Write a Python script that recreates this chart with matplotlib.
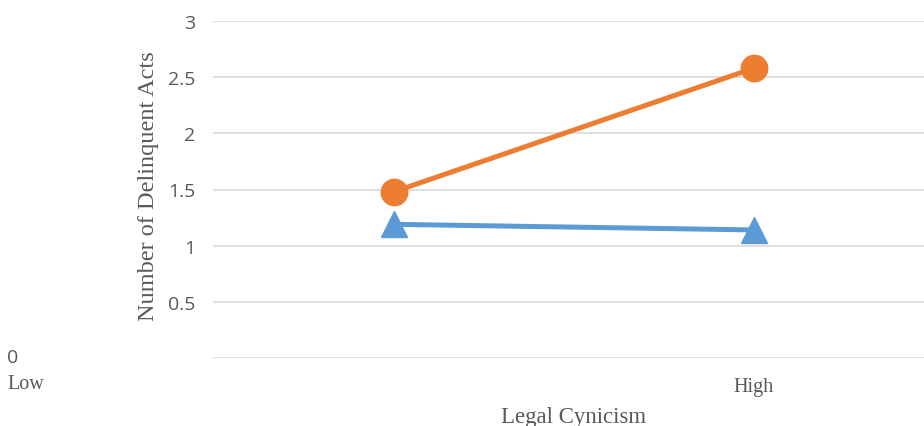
import matplotlib
matplotlib.use("Agg")
import matplotlib.pyplot as plt

categories = ["Low", "High"]
series_orange = [1.48, 2.58]
series_blue = [1.19, 1.14]
y_ticks = [0, 0.5, 1, 1.5, 2, 2.5, 3]
y_tick_labels = ["0", "0.5", "1", "1.5", "2", "2.5", "3"]

W, H = 924, 427
fig = plt.figure(figsize=(W / 100, H / 100), dpi=100)
ax = fig.add_axes([213 / W, (H - 359) / H, (924 - 213) / W, (359 - 22) / H])

x = list(range(len(categories)))
ax.plot(x, series_orange, color="#ED7D31", lw=3.6, marker="o", ms=19,
        solid_capstyle="butt", zorder=3)
ax.plot(x, series_blue, color="#5B9BD5", lw=3.6, marker="^", ms=19,
        solid_capstyle="butt", zorder=3)

ax.set_xlim(-(394 - 213) / 360, 1 + (924 - 754) / 360)
ax.set_ylim(0, 3)

for s in ax.spines.values():
    s.set_visible(False)
ax.set_yticks(y_ticks)
ax.set_yticklabels(y_tick_labels, family="Open Sans", fontsize=14, color="#595959")
ax.yaxis.grid(True, color="#D9D9D9", lw=1.2)
ax.set_axisbelow(True)
ax.tick_params(axis="y", length=0, pad=13)
ax.tick_params(axis="x", length=0, pad=14)
ax.yaxis.get_ticklabels()[0].set_visible(False)

ax.set_xticks(x)
ax.set_xticklabels(categories, family="Liberation Serif", fontsize=14.5, color="#595959")
ax.xaxis.get_ticklabels()[0].set_visible(False)

# odd placement of the "0" and "Low" labels in the original
fig.text(7 / W, (H - 358) / H, "0", family="Open Sans", fontsize=14,
         color="#595959", ha="left", va="center")
fig.text(7 / W, (H - 385) / H, categories[0], family="Liberation Serif", fontsize=14.5,
         color="#595959", ha="left", va="center")

ax.set_ylabel("Number of Delinquent Acts", family="Liberation Serif", fontsize=17.5,
              color="#595959")
ax.yaxis.set_label_coords((159 - 213) / (924 - 213), (359 - 186) / (359 - 22))
fig.text(574 / W, (H - 423) / H, "Legal Cynicism", family="Liberation Serif",
         fontsize=16.5, color="#595959", ha="center", va="baseline")

fig.savefig("out.png", dpi=100)
